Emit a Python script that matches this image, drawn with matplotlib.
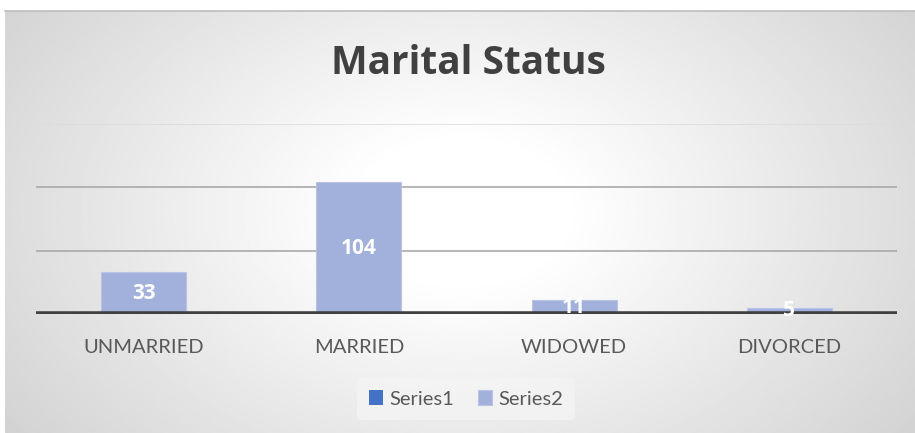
import matplotlib.pyplot as plt
import numpy as np

# --- DATA ---
categories = ['UNMARRIED', 'MARRIED', 'WIDOWED', 'DIVORCED']
series1 = [0, 0, 0, 0]
series2 = [33, 104, 11, 5]
y_ticks = [0, 50, 100, 150]

W, H = 915, 433
fig = plt.figure(figsize=(W / 100, H / 100), dpi=100)
fig.patch.set_facecolor('white')

# --- background: radial grey gradient of the chart area ---
bg = fig.add_axes([5 / W, 0, 1 - 5 / W, (H - 11) / H])
yy, xx = np.mgrid[0:200, 0:400]
cx, cy = 200, 95
r = np.sqrt(((xx - cx) / 220.0) ** 2 + ((yy - cy) / 160.0) ** 2)
shade = 1.0 - 0.24 * np.clip(r, 0, 1.25) / 1.25
shade = np.clip(shade + 0.04, 0.76, 1.0)
bg.imshow(shade, cmap='gray', vmin=0, vmax=1, aspect='auto', extent=[0, 1, 0, 1])
bg.set_xlim(0, 1)
bg.set_ylim(0, 1)
bg.axis('off')
fig.add_artist(plt.Line2D([5 / W, 1], [(H - 11) / H] * 2, color='#bdbdbd', lw=1.2,
                          transform=fig.transFigure))

# --- main plot ---
ax = fig.add_axes([36 / W, (H - 314) / H, (897 - 36) / W, (314 - 124) / H])
ax.patch.set_alpha(0)
x = np.arange(len(categories))
ax.bar(x, series1, width=0.4, color='#4472C4', label='Series1')
bars = ax.bar(x, series2, width=0.395, color='#A2B0DC', edgecolor='#b8c3e6',
              linewidth=0.8, label='Series2', zorder=2)
ax.set_xlim(-0.5, len(categories) - 0.5)
ax.set_ylim(0, 150)

for yv in y_ticks[1:]:
    c = '#dcdcdc' if yv == 150 else '#a9a9a9'
    ax.axhline(yv, color=c, lw=1.2, zorder=1)
ax.axhline(0, color='#404040', lw=4, zorder=3)

for b, v in zip(bars, series2):
    ax.text(b.get_x() + b.get_width() / 2, v / 2, str(v), ha='center', va='center',
            color='white', fontsize=15, fontweight='bold', family='Open Sans', zorder=4)

ax.set_xticks(x)
ax.set_xticklabels(categories, fontsize=14.5, color='#595959', family='Lato')
ax.tick_params(axis='x', length=0, pad=18)
ax.set_yticks([])
for s in ax.spines.values():
    s.set_visible(False)

fig.text(468 / W, 1 - 64 / H, 'Marital Status', ha='center', va='center',
         fontsize=28, fontweight='bold', color='#404040', family='Open Sans')

leg = fig.legend(loc='center', bbox_to_anchor=(466 / W, 1 - 399 / H), ncol=2,
                 frameon=True, handlelength=0.7, handleheight=0.7,
                 handletextpad=0.3, columnspacing=1.2, borderpad=0.6,
                 prop={'family': 'Lato', 'size': 14.5})
leg.get_frame().set_facecolor('#f4f4f4')
leg.get_frame().set_edgecolor('none')
leg.get_frame().set_alpha(0.8)
for t in leg.get_texts():
    t.set_color('#595959')

fig.savefig('out.png', dpi=100)
